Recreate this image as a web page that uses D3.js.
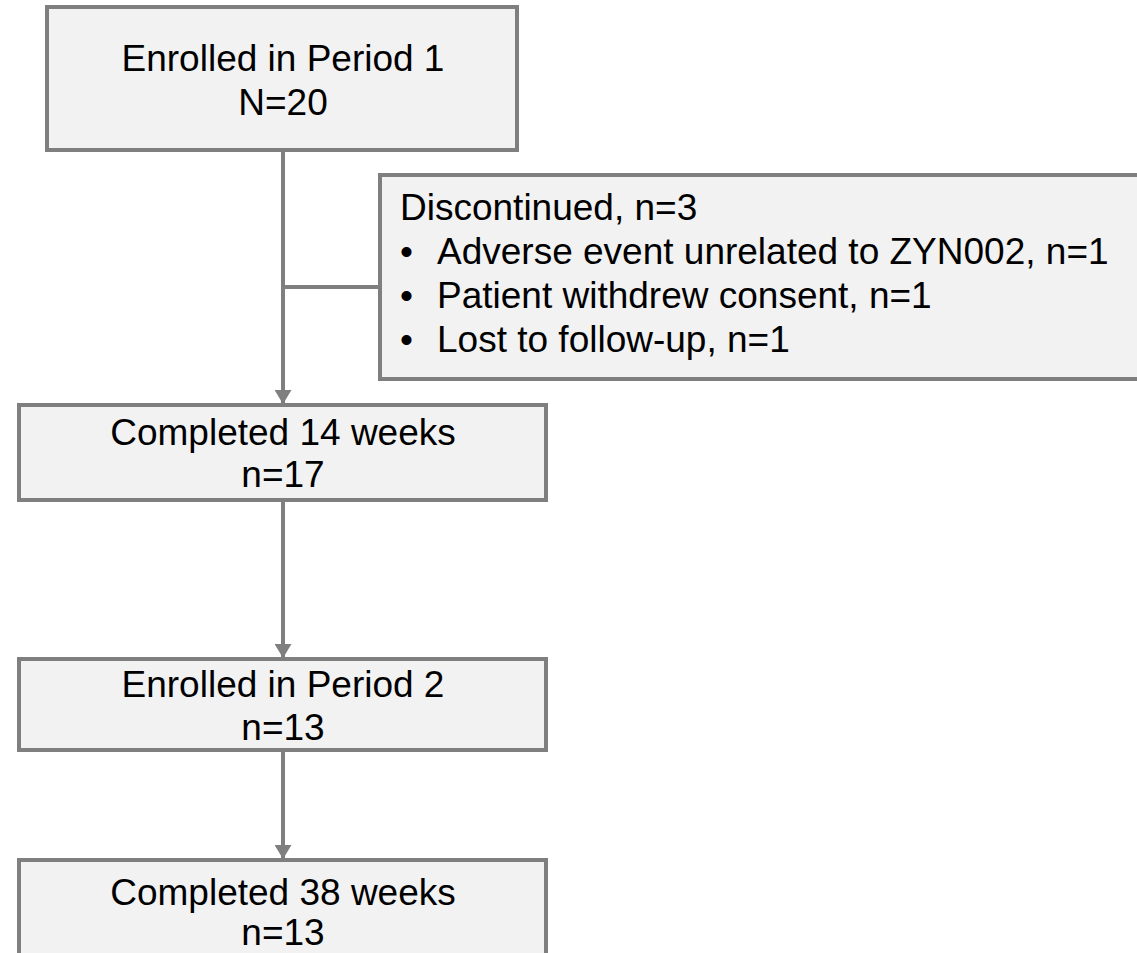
<!DOCTYPE html>
<html>
<head>
<meta charset="utf-8">
<script src="https://cdn.jsdelivr.net/npm/d3@7"></script>
<style>
  body { margin: 0; background: #fff; }
  text { font-family: "Liberation Sans", Arial, sans-serif; fill: #000; font-size: 37px; }
</style>
</head>
<body>
<svg width="1137" height="953"></svg>
<script>
/********** Data **********/
var stageLabels = ["Enrolled in Period 1", "Completed 14 weeks", "Enrolled in Period 2", "Completed 38 weeks"];
var stageCounts = ["N=20", "n=17", "n=13", "n=13"];

var discTitle = "Discontinued, n=3";
var discReasons = ["Adverse event unrelated to ZYN002", "Patient withdrew consent", "Lost to follow-up"];
var discCounts = [1, 1, 1];

/********** Layout **********/
var grey = "#7f7f7f",
    fill = "#f2f2f2",
    sw = 4;

var svg = d3.select("svg");

// outer box edges (left, right, top, bottom) and the two text baselines
var boxes = [
  {x0: 45, x1: 519, y0: 5,   y1: 152, t1: 71,  t2: 115},
  {x0: 17, x1: 548, y0: 403, y1: 502, t1: 445, t2: 487},
  {x0: 17, x1: 548, y0: 657, y1: 752, t1: 697, t2: 740},
  {x0: 17, x1: 548, y0: 858, y1: 990, t1: 905, t2: 945}
];
var discBox = {x0: 378, x1: 1160, y0: 173, y1: 381};
var cx = 283, branchY = 287;

svg.append("defs").append("marker")
    .attr("id", "arrow")
    .attr("viewBox", "0 0 14 17")
    .attr("refX", 14).attr("refY", 8.5)
    .attr("markerUnits", "userSpaceOnUse")
    .attr("markerWidth", 14).attr("markerHeight", 17)
    .attr("orient", "auto")
  .append("path")
    .attr("d", "M0,0 L14,8.5 L0,17 Z")
    .attr("fill", grey);

// connectors between stages
var links = d3.pairs(boxes);
svg.selectAll("line.link")
    .data(links)
    .enter().append("line")
    .attr("class", "link")
    .attr("x1", cx).attr("x2", cx)
    .attr("y1", function(d) { return d[0].y1; })
    .attr("y2", function(d) { return d[1].y0 + 1; })
    .attr("stroke", grey)
    .attr("stroke-width", sw)
    .attr("marker-end", "url(#arrow)");

svg.append("line")
    .attr("x1", cx).attr("x2", discBox.x0)
    .attr("y1", branchY).attr("y2", branchY)
    .attr("stroke", grey)
    .attr("stroke-width", sw);

// stage boxes
var g = svg.selectAll("g.stage")
    .data(boxes)
    .enter().append("g")
    .attr("class", "stage");

g.append("rect")
    .attr("x", function(d) { return d.x0 + sw / 2; })
    .attr("y", function(d) { return d.y0 + sw / 2; })
    .attr("width", function(d) { return d.x1 - d.x0 - sw; })
    .attr("height", function(d) { return d.y1 - d.y0 - sw; })
    .attr("fill", fill)
    .attr("stroke", grey)
    .attr("stroke-width", sw);

g.append("text")
    .attr("x", cx)
    .attr("y", function(d) { return d.t1; })
    .attr("text-anchor", "middle")
    .text(function(d, i) { return stageLabels[i]; });

g.append("text")
    .attr("x", cx)
    .attr("y", function(d) { return d.t2; })
    .attr("text-anchor", "middle")
    .text(function(d, i) { return stageCounts[i]; });

// discontinued box
svg.append("rect")
    .attr("x", discBox.x0 + sw / 2)
    .attr("y", discBox.y0 + sw / 2)
    .attr("width", discBox.x1 - discBox.x0 - sw)
    .attr("height", discBox.y1 - discBox.y0 - sw)
    .attr("fill", fill)
    .attr("stroke", grey)
    .attr("stroke-width", sw);

var lineY = d3.scaleLinear().domain([0, 1]).range([220, 264]);

svg.append("text")
    .attr("x", 400)
    .attr("y", lineY(0))
    .text(discTitle);

var items = svg.selectAll("g.reason")
    .data(discReasons)
    .enter().append("g")
    .attr("class", "reason")
    .attr("transform", function(d, i) { return "translate(0," + lineY(i + 1) + ")"; });

items.append("text")
    .attr("x", 400)
    .text("\u2022");

items.append("text")
    .attr("x", 437)
    .text(function(d, i) { return d + ", n=" + discCounts[i]; });
</script>
</body>
</html>
